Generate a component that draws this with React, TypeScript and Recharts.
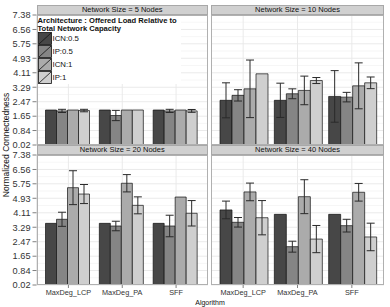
import type { FC } from 'react';
import { Bar, BarChart, CartesianGrid, ErrorBar, XAxis, YAxis } from 'recharts';

const algorithms = ['MaxDeg_LCP', 'MaxDeg_PA', 'SFF'];
const architectures = ['ICN:0.5', 'IP:0.5', 'ICN:1', 'IP:1'];
const seriesKeys = ['icn05', 'ip05', 'icn1', 'ip1'];
const seriesColors = ['#474747', '#858585', '#ababab', '#cfcfcf'];
const yTicks = [0.02, 0.84, 1.65, 2.47, 3.29, 4.11, 4.93, 5.75, 6.56, 7.38];
const panelTitles = [
  'Network Size = 5 Nodes',
  'Network Size = 10 Nodes',
  'Network Size = 20 Nodes',
  'Network Size = 40 Nodes',
];

// rows = architecture (ICN:0.5, IP:0.5, ICN:1, IP:1), columns = algorithm
const size5Mean = [
  [2.0, 2.0, 2.0],
  [1.95, 1.69, 1.95],
  [2.0, 2.0, 2.0],
  [1.97, 2.0, 1.95],
];
const size5Err = [
  [0, 0, 0],
  [0.09, 0.29, 0.09],
  [0, 0, 0],
  [0.07, 0, 0.08],
];
const size10Mean = [
  [2.55, 2.55, 2.77],
  [2.83, 2.92, 2.73],
  [3.2, 3.11, 3.37],
  [4.05, 3.67, 3.54],
];
const size10Err = [
  [0.99, 0.97, 1.46],
  [0.32, 0.28, 0.27],
  [1.63, 0.81, 1.3],
  [0, 0.17, 0.33],
];
const size20Mean = [
  [3.51, 3.51, 3.51],
  [3.74, 3.36, 3.36],
  [5.53, 5.78, 5.0],
  [5.17, 4.53, 4.08],
];
const size20Err = [
  [0, 0, 0],
  [0.4, 0.27, 0.61],
  [0.96, 0.49, 0],
  [0.54, 0.48, 0.72],
];
const size40Mean = [
  [4.27, 4.02, 4.02],
  [3.57, 2.19, 3.38],
  [5.29, 5.02, 5.27],
  [3.83, 2.62, 2.74],
];
const size40Err = [
  [0.5, 0, 0],
  [0.27, 0.31, 0.36],
  [0.5, 0.96, 0.5],
  [0.97, 0.77, 0.78],
];

type Row = Record<string, string | number>;

const buildRows = (mean: number[][], err: number[][]): Row[] =>
  algorithms.map((algorithm, j) => {
    const row: Row = { algorithm };
    seriesKeys.forEach((k, i) => {
      row[k] = mean[i][j];
      row[`${k}Err`] = err[i][j];
    });
    return row;
  });

const panelData = [
  buildRows(size5Mean, size5Err),
  buildRows(size10Mean, size10Err),
  buildRows(size20Mean, size20Err),
  buildRows(size40Mean, size40Err),
];

const minorTicks = yTicks.slice(0, -1).map((t, i) => (t + yTicks[i + 1]) / 2);
const FONT = '"Liberation Sans", Arial, Helvetica, sans-serif';

const LEFT_X = 36.5;
const LEFT_W = 171.5;
const RIGHT_X = 211;
const RIGHT_W = 173;
const TOP_Y = 15;
const BOTTOM_Y = 155;
const PLOT_H = 130;
const Y_AXIS_W = 36.5;

interface PanelProps {
  data: Row[];
  left: boolean;
  bottom: boolean;
}

const minorGen = ({ offset }: any) =>
  minorTicks.map(
    (v) => offset.top + (1 - (v - yTicks[0]) / (yTicks[yTicks.length - 1] - yTicks[0])) * offset.height,
  );

const Panel: FC<PanelProps> = ({ data, left, bottom }) => {
  const width = left ? LEFT_W + Y_AXIS_W : RIGHT_W;
  const height = 10 + PLOT_H + (bottom ? 20 : 5);
  return (
    <BarChart
      width={width}
      height={height}
      data={data}
      margin={{ top: 10, right: 0, left: 0, bottom: bottom ? 0 : 5 }}
      barCategoryGap={4}
      barGap={0}
      style={{ overflow: 'visible' }}
    >
      <CartesianGrid
        stroke='#f4f4f4'
        strokeWidth={0.8}
        vertical={false}
        horizontalCoordinatesGenerator={minorGen}
      />
      <CartesianGrid stroke='#e8e8e8' strokeWidth={0.9} />
      <XAxis
        dataKey='algorithm'
        hide={!bottom}
        height={20}
        padding={{ left: 5, right: 5 }}
        axisLine={false}
        tickLine={{ stroke: '#808080' }}
        tickSize={3}
        tick={{ fontSize: 7.3, fill: '#333', fontFamily: FONT }}
        interval={0}
      />
      <YAxis
        hide={!left}
        width={Y_AXIS_W}
        domain={[yTicks[0], yTicks[yTicks.length - 1]]}
        ticks={yTicks}
        interval={0}
        allowDataOverflow
        axisLine={false}
        tickLine={{ stroke: '#808080' }}
        tickSize={4}
        tickMargin={2}
        tick={{ fontSize: 9.2, fill: '#333', fontFamily: FONT }}
      />
      {seriesKeys.map((k, i) => (
        <Bar
          key={k}
          dataKey={k}
          fill={seriesColors[i]}
          stroke='#111'
          strokeWidth={0.7}
          isAnimationActive={false}
        >
          <ErrorBar dataKey={`${k}Err`} width={4} stroke='#2a2a2a' strokeWidth={1} direction='y' />
        </Bar>
      ))}
    </BarChart>
  );
};

const Strip: FC<{ x: number; y: number; w: number; title: string }> = ({ x, y, w, title }) => (
  <div
    style={{
      position: 'absolute',
      left: x,
      top: y,
      width: w,
      height: 10,
      boxSizing: 'border-box',
      background: '#d0d0d0',
      border: '1px solid #a8a8a8',
      fontSize: 7.5,
      lineHeight: '8px',
      textAlign: 'center',
      color: '#111',
      fontFamily: FONT,
    }}
  >
    {title}
  </div>
);

const Border: FC<{ x: number; y: number; w: number }> = ({ x, y, w }) => (
  <div
    style={{
      position: 'absolute',
      left: x,
      top: y,
      width: w,
      height: PLOT_H,
      boxSizing: 'border-box',
      border: '1px solid #b0b0b0',
      pointerEvents: 'none',
    }}
  />
);

const Legend: FC = () => (
  <div
    style={{
      position: 'absolute',
      left: LEFT_X + 1,
      top: TOP_Y + 1,
      width: 143,
      height: 68,
      background: '#fff',
      fontFamily: FONT,
      color: '#111',
    }}
  >
    <div style={{ fontSize: 7.6, fontWeight: 'bold', lineHeight: '7.5px', marginTop: 1 }}>
      Architecture : Offered Load Relative to
      <br />
      Total Network Capacity
    </div>
    {architectures.map((name, i) => (
      <div key={name} style={{ display: 'flex', alignItems: 'center', height: 13 }}>
        <svg width={14} height={13} style={{ display: 'block' }}>
          <rect x={0.5} y={0.5} width={13} height={12} fill={seriesColors[i]} stroke='#111' strokeWidth={0.8} />
          <line x1={1} y1={12} x2={13} y2={1} stroke='#111' strokeWidth={0.8} />
        </svg>
        <span style={{ fontSize: 7.8, marginLeft: 1 }}>{name}</span>
      </div>
    ))}
  </div>
);

const App: FC = () => (
  <div
    style={{
      position: 'absolute',
      left: 0,
      top: 0,
      width: 390,
      height: 307,
      background: '#fff',
      fontFamily: FONT,
      overflow: 'hidden',
    }}
  >
    <div style={{ position: 'absolute', left: 0, top: TOP_Y - 10 }}>
      <Panel data={panelData[0]} left bottom={false} />
    </div>
    <div style={{ position: 'absolute', left: RIGHT_X, top: TOP_Y - 10 }}>
      <Panel data={panelData[1]} left={false} bottom={false} />
    </div>
    <div style={{ position: 'absolute', left: 0, top: BOTTOM_Y - 10 }}>
      <Panel data={panelData[2]} left bottom />
    </div>
    <div style={{ position: 'absolute', left: RIGHT_X, top: BOTTOM_Y - 10 }}>
      <Panel data={panelData[3]} left={false} bottom />
    </div>

    <Border x={LEFT_X} y={TOP_Y} w={LEFT_W} />
    <Border x={RIGHT_X} y={TOP_Y} w={RIGHT_W} />
    <Border x={LEFT_X} y={BOTTOM_Y} w={LEFT_W} />
    <Border x={RIGHT_X} y={BOTTOM_Y} w={RIGHT_W} />

    <Strip x={LEFT_X} y={TOP_Y - 10} w={LEFT_W} title={panelTitles[0]} />
    <Strip x={RIGHT_X} y={TOP_Y - 10} w={RIGHT_W} title={panelTitles[1]} />
    <Strip x={LEFT_X} y={BOTTOM_Y - 10} w={LEFT_W} title={panelTitles[2]} />
    <Strip x={RIGHT_X} y={BOTTOM_Y - 10} w={RIGHT_W} title={panelTitles[3]} />

    <Legend />

    <div
      style={{
        position: 'absolute',
        left: 6,
        top: 145,
        transform: 'translate(-50%, -50%) rotate(-90deg)',
        whiteSpace: 'nowrap',
        fontSize: 8.5,
        color: '#111',
      }}
    >
      Normalized Connectedness
    </div>
    <div
      style={{
        position: 'absolute',
        left: 210,
        top: 302,
        transform: 'translate(-50%, -50%)',
        whiteSpace: 'nowrap',
        fontSize: 7,
        color: '#111',
      }}
    >
      Algorithm
    </div>
  </div>
);

export default App;
